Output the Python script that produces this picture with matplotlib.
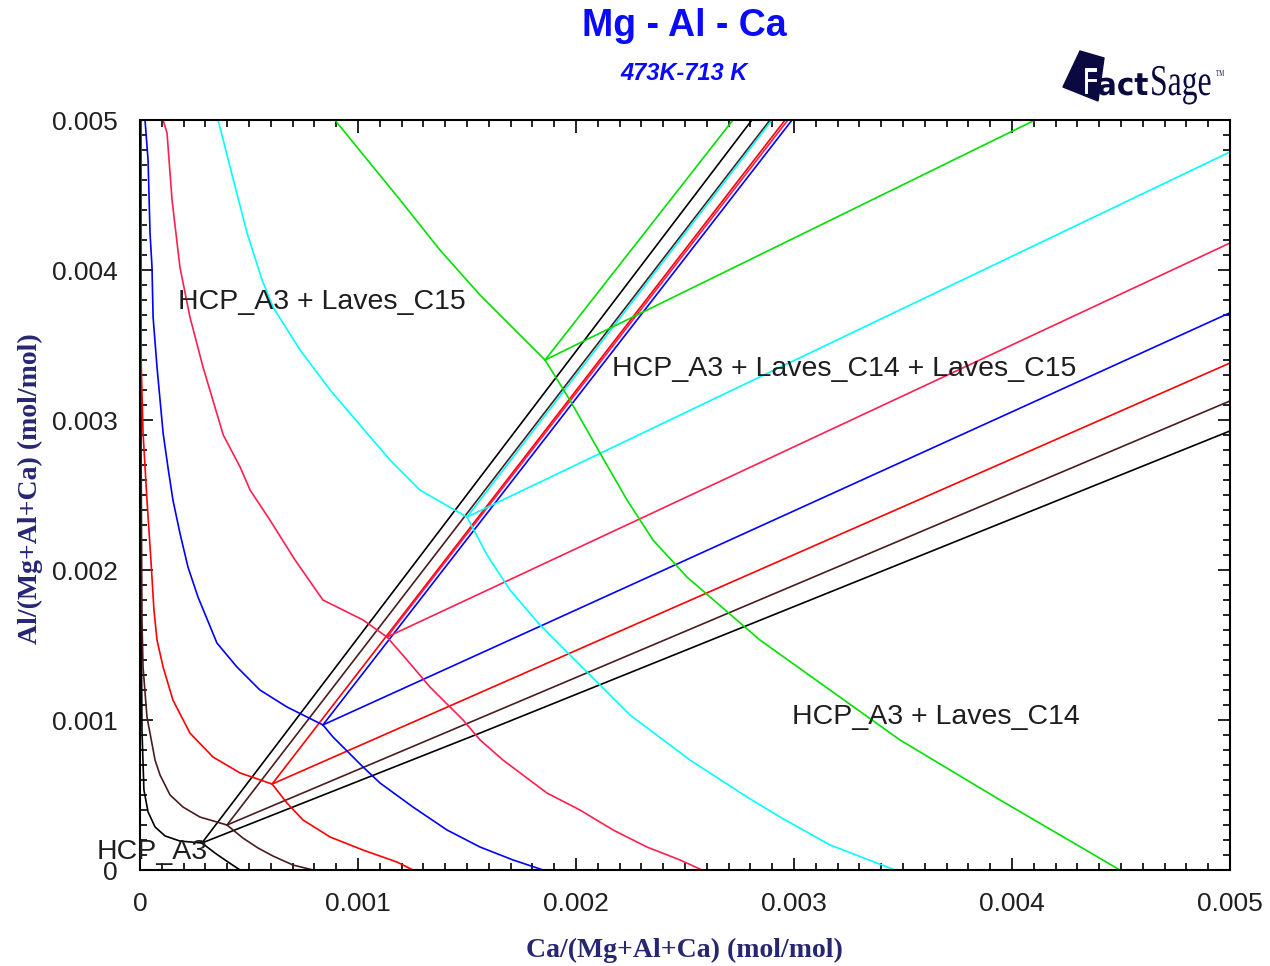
import matplotlib.pyplot as plt
import numpy as np
from matplotlib.patches import Polygon, PathPatch
from matplotlib.textpath import TextPath
from matplotlib.font_manager import FontProperties
from matplotlib.transforms import Affine2D, IdentityTransform
from matplotlib.ticker import MultipleLocator, FuncFormatter

plt.rcParams['font.family'] = ['Liberation Sans', 'DejaVu Sans']

# all compositions below in units of 1e-3 mol/mol
# HCP_A3 boundary of each isotherm (passes through the three-phase corner)
bx_473 = [0.002, 0.005, 0.009, 0.018, 0.037, 0.069, 0.115, 0.183, 0.284, 0.344, 0.404, 0.459]
by_473 = [5.0, 1.8, 0.933, 0.533, 0.387, 0.287, 0.227, 0.193, 0.18, 0.113, 0.053, 0.0]
bx_513 = [0.002, 0.005, 0.009, 0.014, 0.032, 0.069, 0.092, 0.138, 0.197, 0.275, 0.399,
          0.472, 0.541, 0.61, 0.702, 0.794]
by_513 = [5.0, 2.8, 1.667, 1.353, 1.02, 0.733, 0.633, 0.5, 0.42, 0.353, 0.3,
          0.213, 0.147, 0.093, 0.033, 0.0]
bx_553 = [0.005, 0.005, 0.014, 0.032, 0.05, 0.064, 0.078, 0.106, 0.151, 0.229, 0.335, 0.459,
          0.606, 0.674, 0.748, 0.872, 1.023, 1.179, 1.252]
by_553 = [5.0, 3.4, 2.913, 2.467, 2.067, 1.733, 1.533, 1.353, 1.133, 0.913, 0.753, 0.647,
          0.573, 0.447, 0.333, 0.22, 0.133, 0.053, 0.0]
bx_593 = [0.023, 0.037, 0.046, 0.055, 0.06, 0.078, 0.092, 0.106, 0.128, 0.151, 0.183, 0.22,
          0.266, 0.353, 0.445, 0.55, 0.674, 0.839, 0.885, 1.023, 1.101, 1.252, 1.408,
          1.56, 1.711, 1.849]
by_593 = [5.0, 4.733, 4.247, 4.02, 3.687, 3.353, 3.133, 2.913, 2.687, 2.467, 2.247, 2.02,
          1.82, 1.513, 1.353, 1.2, 1.087, 0.967, 0.887, 0.687, 0.58, 0.42, 0.267,
          0.153, 0.067, 0.0]
bx_633 = [0.106, 0.124, 0.147, 0.183, 0.229, 0.289, 0.382, 0.459, 0.505, 0.596, 0.711, 0.839,
          1.023, 1.133, 1.225, 1.33, 1.482, 1.56, 1.665, 1.867, 2.018, 2.17, 2.326, 2.477, 2.578]
by_633 = [5.0, 4.913, 4.467, 4.02, 3.687, 3.353, 2.9, 2.687, 2.533, 2.333, 2.067, 1.8,
          1.667, 1.553, 1.4, 1.22, 1.0, 0.867, 0.733, 0.513, 0.4, 0.267, 0.153, 0.067, 0.0]
bx_673 = [0.358, 0.413, 0.491, 0.56, 0.61, 0.734, 0.872, 1.009, 1.147, 1.284, 1.5,
          1.592, 1.697, 1.835, 2.018, 2.248, 2.523, 2.784, 2.936, 3.165, 3.463]
by_673 = [5.0, 4.687, 4.247, 3.933, 3.753, 3.467, 3.2, 2.967, 2.733, 2.533, 2.353,
          2.1, 1.867, 1.633, 1.367, 1.033, 0.733, 0.487, 0.353, 0.167, 0.0]
bx_713 = [0.894, 1.193, 1.376, 1.56, 1.743, 1.858, 1.972, 2.11, 2.234, 2.353, 2.509,
          2.844, 3.165, 3.486, 3.945, 4.495]
by_713 = [5.0, 4.467, 4.133, 3.833, 3.567, 3.4, 3.133, 2.78, 2.467, 2.2, 1.953,
          1.533, 1.2, 0.867, 0.467, 0.0]

# three-phase triangle edges: corner -> Laves_C15 side, corner -> Laves_C14 side
c15x_473, c15y_473 = [0.284, 2.807], [0.18, 5.0]
c14x_473, c14y_473 = [0.284, 1.56, 5.0], [0.18, 0.913, 2.927]
c15x_513, c15y_513 = [0.399, 2.89], [0.3, 5.0]
c14x_513, c14y_513 = [0.399, 1.56, 5.0], [0.3, 1.013, 3.127]
c15x_553, c15y_553 = [0.606, 2.959], [0.573, 5.0]
c14x_553, c14y_553 = [0.606, 5.0], [0.573, 3.38]
c15x_593, c15y_593 = [0.839, 2.991], [0.967, 5.0]
c14x_593, c14y_593 = [0.839, 5.0], [0.967, 3.715]
c15x_633, c15y_633 = [1.133, 2.972], [1.553, 5.0]
c14x_633, c14y_633 = [1.133, 5.0], [1.553, 4.18]
c15x_673, c15y_673 = [1.5, 2.899], [2.353, 5.0]
c14x_673, c14y_673 = [1.5, 5.0], [2.353, 4.787]
c15x_713, c15y_713 = [1.858, 2.72], [3.4, 5.0]
c14x_713, c14y_713 = [1.858, 4.106], [3.4, 5.0]

isotherms = [
    ('#000000', bx_473, by_473, c15x_473, c15y_473, c14x_473, c14y_473),
    ('#4a1c1c', bx_513, by_513, c15x_513, c15y_513, c14x_513, c14y_513),
    ('#ff0000', bx_553, by_553, c15x_553, c15y_553, c14x_553, c14y_553),
    ('#0000ff', bx_593, by_593, c15x_593, c15y_593, c14x_593, c14y_593),
    ('#ff1f4f', bx_633, by_633, c15x_633, c15y_633, c14x_633, c14y_633),
    ('#00ffff', bx_673, by_673, c15x_673, c15y_673, c14x_673, c14y_673),
    ('#00e000', bx_713, by_713, c15x_713, c15y_713, c14x_713, c14y_713),
]

W, H = 1270, 966
fig = plt.figure(figsize=(W / 100, H / 100), dpi=100)
ax = fig.add_axes([140 / W, 1 - 870 / H, 1090 / W, 750 / H])

for color, bx, by, x15, y15, x14, y14 in isotherms:
    for xs, ys in ((bx, by), (x15, y15), (x14, y14)):
        ax.plot(np.array(xs) * 1e-3, np.array(ys) * 1e-3, color=color, lw=1.2)

ax.set_xlim(0, 0.005)
ax.set_ylim(0, 0.005)
fmt = FuncFormatter(lambda v, p: '0' if abs(v) < 1e-9 else '%.3f' % v)
for a in (ax.xaxis, ax.yaxis):
    a.set_major_locator(MultipleLocator(0.001))
    a.set_minor_locator(MultipleLocator(0.0001))
    a.set_major_formatter(fmt)
ax.tick_params(which='both', direction='in', top=True, right=True, width=1.2,
               labelsize=19, labelcolor='#202020', pad=16)
ax.tick_params(which='major', length=9)
ax.tick_params(which='minor', length=5)
for s in ax.spines.values():
    s.set_linewidth(1.5)

lab = dict(fontsize=20.5, color='#1e1e1e', va='center', ha='left')
ax.text(0.174e-3, 3.787e-3, 'HCP_A3 + Laves_C15', **lab)
ax.text(2.165e-3, 3.34e-3, 'HCP_A3 + Laves_C14 + Laves_C15', **lab)
ax.text(2.991e-3, 1.02e-3, 'HCP_A3 + Laves_C14', **lab)
ax.text(-0.197e-3, 0.12e-3, 'HCP_A3', clip_on=False, **lab)

fig.text(684 / W, 1 - 26 / H, 'Mg - Al - Ca', ha='center', va='center',
         fontsize=27, fontweight='bold', color='#0a0aff')
fig.text(684 / W, 1 - 73 / H, '473K-713 K', ha='center', va='center',
         fontsize=17, fontweight='bold', fontstyle='italic', color='#0a0aff')

axcol = '#262673'
fig.text(684 / W, 1 - 950 / H, 'Ca/(Mg+Al+Ca) (mol/mol)', ha='center', va='center',
         family='Liberation Serif', fontweight='bold', fontsize=20, color=axcol)
fig.text(30 / W, 1 - 489 / H, 'Al/(Mg+Al+Ca) (mol/mol)', ha='center', va='center',
         rotation=90, family='Liberation Serif', fontweight='bold', fontsize=20, color=axcol)

# FactSage logo
navy = '#0a0a40'
sq = [(1080, 51), (1104, 58), (1098, 101), (1063, 87)]
fig.add_artist(Polygon([(x / W, 1 - y / H) for x, y in sq], closed=True,
                       facecolor=navy, edgecolor=navy, transform=fig.transFigure))


def logo_text(s, x, y, size, sx, sy, family, weight, fc, ec=None, lw=0):
    tp = TextPath((0, 0), s, size=size, prop=FontProperties(family=family, weight=weight))
    path = Affine2D().scale(sx, sy).translate(x, H - y).transform_path(tp)
    fig.add_artist(PathPatch(path, facecolor=fc, edgecolor=ec or fc, lw=lw,
                             transform=IdentityTransform()))


logo_text('F', 1081, 95, 38, 0.75, 1.0, 'DejaVu Sans', 'bold', 'white', navy, 1.5)
logo_text('act', 1097, 95, 31, 0.95, 1.0, 'DejaVu Sans', 'bold', navy)
logo_text('Sage', 1150, 95, 44, 0.72, 1.0, 'Liberation Serif', 'normal', navy)
logo_text('TM', 1216, 76, 9, 0.6, 1.0, 'Liberation Serif', 'normal', navy)

fig.savefig('out.png', dpi=100)
